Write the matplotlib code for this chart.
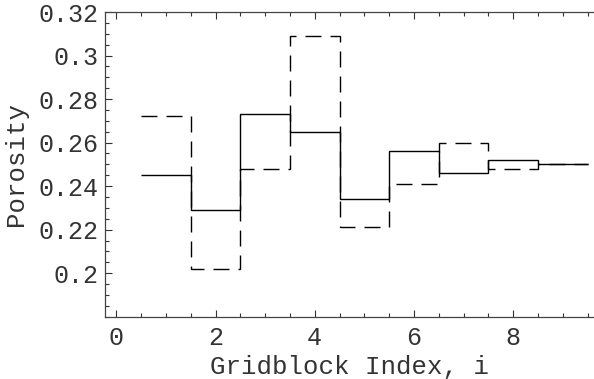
import numpy as np
import matplotlib.pyplot as plt
from matplotlib.ticker import MultipleLocator

# gridblock edges and porosity per block
edges = np.arange(0.5, 10.0, 1.0)
solid_phi = [0.245, 0.229, 0.273, 0.265, 0.234, 0.256, 0.246, 0.252, 0.250]
dashed_phi = [0.272, 0.202, 0.248, 0.309, 0.221, 0.241, 0.260, 0.248, 0.250]

yticks = [0.2, 0.22, 0.24, 0.26, 0.28, 0.3, 0.32]
ytick_labels = ['0.2', '0.22', '0.24', '0.26', '0.28', '0.3', '0.32']
xticks = [0, 2, 4, 6, 8]

plt.rcParams['font.family'] = ['Liberation Mono', 'DejaVu Sans Mono']

fig = plt.figure(figsize=(5.94, 3.79), dpi=100)
ax = fig.add_axes([0.1768, 0.1644, 0.8232, 0.8039])

ax.stairs(solid_phi, edges, baseline=None, color='black', lw=1.0)
ax.stairs(dashed_phi, edges, baseline=None, color='black', lw=1.0,
          linestyle=(0, (11.5, 6.5)))

ax.set_xlim(-0.228, 9.63)
ax.set_ylim(0.18, 0.32)

ax.set_xticks(xticks)
ax.xaxis.set_minor_locator(MultipleLocator(0.5))
ax.set_yticks(yticks)
ax.set_yticklabels(ytick_labels)
ax.yaxis.set_minor_locator(MultipleLocator(0.005))

ax.tick_params(which='both', direction='in', top=True, right=False,
               colors='#333333', labelcolor='#333333', labelsize=18)
ax.tick_params(which='major', length=5, width=0.8)
ax.tick_params(which='minor', length=3, width=0.8)
ax.tick_params(axis='x', pad=7)
ax.tick_params(axis='y', pad=5)

for s in ['left', 'bottom', 'top']:
    ax.spines[s].set_color('#444444')
    ax.spines[s].set_linewidth(0.9)
ax.spines['right'].set_visible(False)

ax.set_xlabel('Gridblock Index, i', fontsize=18.5, color='#333333', labelpad=3)
ax.set_ylabel('Porosity', fontsize=18.5, color='#333333', labelpad=7)

plt.savefig('out.png', dpi=100)
